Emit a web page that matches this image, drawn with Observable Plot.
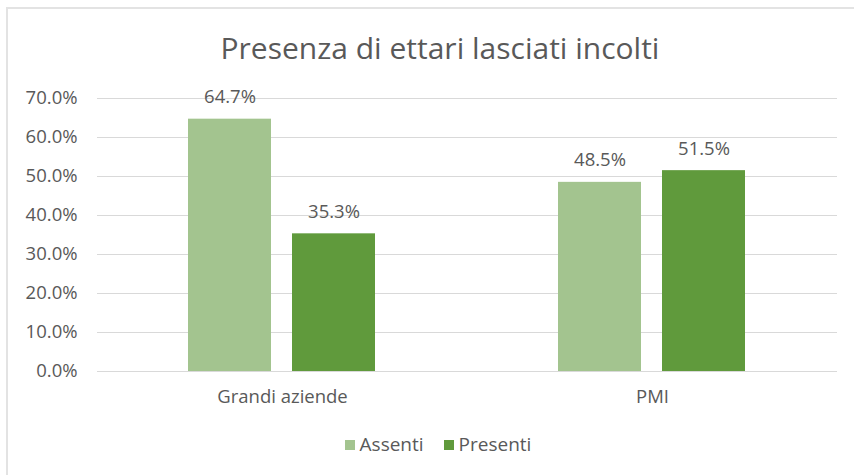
<!DOCTYPE html>
<html>
<head>
<meta charset="utf-8">
<script src="https://cdn.jsdelivr.net/npm/d3@7"></script>
<script src="https://cdn.jsdelivr.net/npm/@observablehq/plot@0.6"></script>
<style>
  html, body { margin: 0; padding: 0; background: #fff; width: 854px; height: 475px; overflow: hidden; }
  body { font-family: "Open Sans", Lato, sans-serif; color: #595959; position: relative; }
  #frame { position: absolute; left: 6px; top: 7px; width: 900px; height: 520px;
           border-left: 2px solid #e3e3e3; border-top: 2px solid #e3e3e3; }
  #title { position: absolute; left: 0; top: 28px; width: 880px; text-align: center;
           font-size: 30px; line-height: 40px; color: #595959; }
  #chart { position: absolute; left: 0; top: 80px; }
  #legend { position: absolute; left: 0; top: 432px; width: 876px; text-align: center;
            font-size: 19px; line-height: 24px; color: #595959; }
  #legend span.sw { display: inline-block; width: 10px; height: 10px; margin-right: 5px; vertical-align: 1px; }
  #legend span.item { margin: 0 10px; }
</style>
</head>
<body>
<div id="frame"></div>
<div id="title">Presenza di ettari lasciati incolti</div>
<div id="chart"></div>
<div id="legend"></div>
<script>
const categories = ["Grandi aziende", "PMI"];
const series = ["Assenti", "Presenti"];
const assenti = [0.647, 0.485];
const presenti = [0.353, 0.515];
const yTicks = [0, 0.1, 0.2, 0.3, 0.4, 0.5, 0.6, 0.7];
const colors = ["#a3c48f", "#609a3c"];

const data = [];
categories.forEach((c, i) => {
  data.push({cat: c, series: series[0], value: assenti[i]});
  data.push({cat: c, series: series[1], value: presenti[i]});
});

const fmt = d3.format(".1%");
const FS = 18.5;

const plot = Plot.plot({
  width: 854,
  height: 350,
  marginLeft: 96,
  marginRight: 17,
  marginTop: 18,
  marginBottom: 59,
  style: {fontFamily: "'Open Sans', Lato, sans-serif", fontSize: "18px", color: "#595959", background: "transparent", overflow: "visible"},
  fx: {domain: categories, padding: 0, label: null, axis: null},
  x: {domain: series, paddingInner: 0.2, paddingOuter: 0.87, axis: null},
  y: {domain: [0, 0.7], ticks: yTicks, tickFormat: fmt, label: null, axis: null},
  color: {domain: series, range: colors},
  marks: [
    Plot.gridY(yTicks, {stroke: "#d9d9d9", strokeOpacity: 1, strokeWidth: 1}),
    Plot.axisY({ticks: yTicks, tickFormat: fmt, tickSize: 0, tickPadding: 20, label: null, fill: "#595959", fontSize: FS}),
    Plot.axisFx({anchor: "bottom", tickSize: 0, tickPadding: 18, label: null, fill: "#595959", fontSize: FS}),
    Plot.barY(data, {fx: "cat", x: "series", y: "value", fill: "series"}),
    Plot.text(data, {fx: "cat", x: "series", y: "value", text: d => fmt(d.value), dy: -16, lineAnchor: "bottom", fill: "#595959", fontSize: FS})
  ]
});
document.getElementById("chart").appendChild(plot);

const legend = document.getElementById("legend");
series.forEach((s, i) => {
  const item = document.createElement("span");
  item.className = "item";
  const sw = document.createElement("span");
  sw.className = "sw";
  sw.style.background = colors[i];
  item.appendChild(sw);
  item.appendChild(document.createTextNode(s));
  legend.appendChild(item);
});
</script>
</body>
</html>
